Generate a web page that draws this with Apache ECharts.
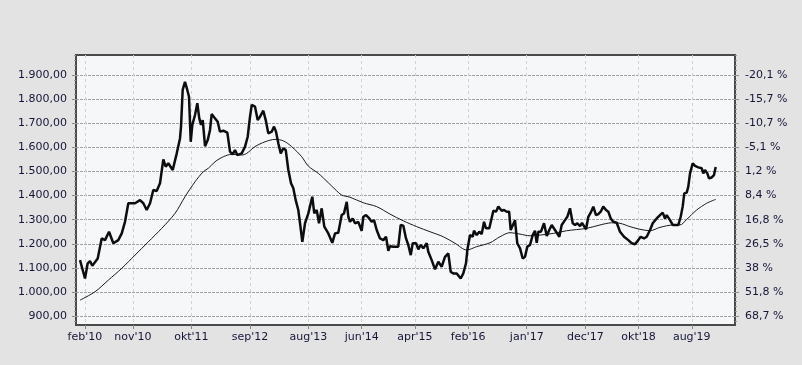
<!DOCTYPE html>
<html><head><meta charset="utf-8">
<script src="https://cdn.jsdelivr.net/npm/echarts@6/dist/echarts.min.js"></script>
<style>html,body{margin:0;padding:0;background:#e3e3e3;}#c{width:802px;height:365px;}</style>
</head><body><div id="c"></div>
<script>
// x values are decimal years
const xLabelPos = [2010.083, 2010.833, 2011.75, 2012.667, 2013.583, 2014.417, 2015.25, 2016.083, 2017.0, 2017.917, 2018.75, 2019.583];
const xLabels = ["feb'10","nov'10","okt'11","sep'12","aug'13","jun'14","apr'15","feb'16","jan'17","dec'17","okt'18","aug'19"];
const yTickVals = [900,1000,1100,1200,1300,1400,1500,1600,1700,1800,1900];
const yLabels = ["900,00","1.000,00","1.100,00","1.200,00","1.300,00","1.400,00","1.500,00","1.600,00","1.700,00","1.800,00","1.900,00"];
const rightLabels = ["68,7 %","51,8 %","38 %","26,5 %","16,8 %","8,4 %","1,2 %","-5,1 %","-10,7 %","-15,7 %","-20,1 %"];

const priceT = [2010.007,2010.085,2010.127,2010.163,2010.199,2010.284,2010.346,2010.398,2010.461,2010.528,2010.555,2010.606,2010.660,2010.711,2010.763,2010.789,2010.868,2010.946,2010.998,2011.051,2011.103,2011.154,2011.207,2011.259,2011.311,2011.348,2011.389,2011.458,2011.521,2011.572,2011.588,2011.614,2011.650,2011.686,2011.713,2011.740,2011.765,2011.807,2011.843,2011.874,2011.901,2011.928,2011.964,2012.006,2012.042,2012.068,2012.109,2012.162,2012.198,2012.250,2012.313,2012.355,2012.397,2012.433,2012.469,2012.538,2012.590,2012.632,2012.668,2012.695,2012.746,2012.788,2012.825,2012.876,2012.914,2012.954,2013.008,2013.044,2013.075,2013.111,2013.149,2013.189,2013.227,2013.268,2013.310,2013.346,2013.383,2013.424,2013.451,2013.487,2013.529,2013.581,2013.643,2013.674,2013.712,2013.748,2013.790,2013.831,2013.894,2013.956,2013.999,2014.050,2014.103,2014.139,2014.182,2014.207,2014.233,2014.276,2014.312,2014.363,2014.416,2014.442,2014.484,2014.535,2014.573,2014.609,2014.651,2014.703,2014.755,2014.797,2014.833,2014.860,2014.911,2014.989,2015.027,2015.068,2015.110,2015.146,2015.184,2015.215,2015.267,2015.303,2015.340,2015.381,2015.434,2015.459,2015.512,2015.564,2015.616,2015.669,2015.720,2015.772,2015.810,2015.850,2015.904,2015.966,2016.007,2016.049,2016.070,2016.112,2016.154,2016.174,2016.217,2016.257,2016.295,2016.331,2016.362,2016.414,2016.477,2016.519,2016.555,2016.608,2016.644,2016.686,2016.724,2016.749,2016.780,2016.816,2016.852,2016.895,2016.937,2016.973,2017.009,2017.051,2017.093,2017.129,2017.156,2017.181,2017.223,2017.270,2017.313,2017.353,2017.391,2017.442,2017.510,2017.547,2017.599,2017.635,2017.677,2017.720,2017.756,2017.792,2017.834,2017.865,2017.901,2017.928,2017.964,2018.001,2018.042,2018.084,2018.120,2018.158,2018.198,2018.241,2018.277,2018.314,2018.355,2018.408,2018.460,2018.523,2018.590,2018.643,2018.695,2018.746,2018.784,2018.836,2018.878,2018.930,2018.972,2019.034,2019.086,2019.128,2019.164,2019.191,2019.243,2019.285,2019.321,2019.373,2019.410,2019.441,2019.466,2019.504,2019.529,2019.556,2019.598,2019.634,2019.686,2019.739,2019.764,2019.790,2019.827,2019.853,2019.895,2019.931,2019.958];
const priceV = [1132,1056,1119,1128,1109,1139,1222,1215,1250,1202,1195,1215,1243,1291,1368,1360,1368,1381,1368,1340,1368,1423,1419,1451,1550,1520,1534,1506,1575,1637,1686,1838,1872,1838,1810,1623,1693,1734,1783,1720,1693,1713,1605,1630,1672,1738,1724,1706,1665,1669,1661,1582,1571,1589,1568,1575,1603,1644,1727,1776,1769,1713,1727,1752,1713,1658,1665,1686,1665,1617,1575,1596,1589,1506,1451,1430,1381,1340,1285,1208,1285,1326,1395,1326,1340,1285,1347,1271,1243,1204,1243,1246,1319,1326,1374,1312,1291,1305,1285,1291,1254,1312,1319,1305,1291,1298,1257,1222,1215,1229,1171,1190,1188,1188,1278,1275,1222,1195,1153,1202,1202,1177,1195,1181,1202,1167,1132,1094,1125,1105,1146,1160,1084,1077,1077,1056,1077,1119,1174,1236,1229,1254,1236,1250,1240,1291,1264,1264,1337,1333,1354,1337,1340,1333,1333,1257,1257,1298,1202,1181,1139,1146,1188,1195,1236,1254,1204,1250,1250,1285,1232,1257,1278,1257,1229,1278,1298,1312,1347,1285,1278,1285,1273,1287,1271,1260,1312,1329,1354,1319,1323,1333,1354,1340,1333,1305,1291,1287,1250,1229,1215,1202,1198,1215,1229,1222,1229,1257,1285,1305,1319,1329,1305,1319,1298,1278,1278,1278,1312,1354,1409,1412,1437,1492,1534,1523,1517,1513,1492,1506,1492,1471,1475,1485,1518];

const maT = [2010.007,2010.242,2010.450,2010.660,2010.868,2011.076,2011.286,2011.494,2011.650,2011.807,2011.937,2012.015,2012.120,2012.250,2012.381,2012.538,2012.616,2012.746,2012.903,2013.059,2013.189,2013.320,2013.477,2013.581,2013.737,2013.894,2013.999,2014.103,2014.233,2014.442,2014.651,2014.860,2015.068,2015.277,2015.485,2015.694,2015.877,2016.060,2016.217,2016.425,2016.581,2016.738,2016.895,2017.051,2017.207,2017.415,2017.624,2017.938,2018.147,2018.330,2018.460,2018.617,2018.773,2018.930,2019.086,2019.294,2019.399,2019.504,2019.660,2019.817,2019.958];
const maV = [966,1001,1049,1098,1153,1208,1264,1326,1395,1457,1499,1513,1540,1561,1571,1568,1575,1603,1623,1633,1627,1603,1561,1522,1492,1453,1426,1402,1393,1370,1354,1323,1295,1271,1250,1229,1202,1174,1188,1204,1229,1246,1240,1233,1236,1243,1254,1264,1278,1287,1285,1271,1260,1254,1268,1278,1278,1301,1340,1368,1384];

const yMinor = [];
for (let v = 880; v <= 1980; v += 20) yMinor.push(v);

const X_MIN = 2009.944, X_MAX = 2020.26, Y_MIN = 863, Y_MAX = 1983;
const FONT = {fontFamily: 'DejaVu Sans', fontSize: 11, color: '#15153a'};

const chart = echarts.init(document.getElementById('c'));
const yBase = {
  type: 'value', min: Y_MIN, max: Y_MAX,
  axisLine: {show: false},
  splitLine: {show: false}
};
chart.setOption({
  animation: false,
  backgroundColor: '#e3e3e3',
  grid: {left: 76, right: 67, top: 55, bottom: 40, show: true, backgroundColor: '#f6f7f9', borderColor: '#4a4a4a', borderWidth: 2},
  xAxis: [{
    type: 'value', min: X_MIN, max: X_MAX,
    axisLine: {show: false},
    axisTick: {show: true, length: 4, inside: false, customValues: xLabelPos, lineStyle: {color: '#888'}},
    axisLabel: {customValues: xLabelPos, margin: 7, ...FONT,
      formatter: v => { const i = xLabelPos.findIndex(p => Math.abs(p - v) < 1e-6); return i >= 0 ? xLabels[i] : ''; }},
    splitLine: {show: true, lineStyle: {color: '#d2d2d2', type: [3, 3], width: 1}}
  }],
  yAxis: [
    Object.assign({}, yBase, {
      position: 'left',
      axisTick: {show: true, length: 4, customValues: yTickVals, lineStyle: {color: '#888'}},
      axisLabel: {customValues: yTickVals, margin: 9, ...FONT,
        formatter: v => { const i = yTickVals.indexOf(Math.round(v)); return i >= 0 ? yLabels[i] : ''; }},
      splitLine: {show: true, lineStyle: {color: '#a3a3a3', type: [3, 1], width: 1}}
    }),
    Object.assign({}, yBase, {
      position: 'right',
      axisTick: {show: true, length: 4, customValues: yTickVals, lineStyle: {color: '#888'}},
      axisLabel: {customValues: yTickVals, margin: 10, ...FONT,
        formatter: v => { const i = yTickVals.indexOf(Math.round(v)); return i >= 0 ? rightLabels[i] : ''; }}
    }),
    Object.assign({}, yBase, {
      position: 'left',
      axisTick: {show: true, length: 2, customValues: yMinor, lineStyle: {color: '#999'}},
      axisLabel: {show: false}
    }),
    Object.assign({}, yBase, {
      position: 'right',
      axisTick: {show: true, length: 2, customValues: yMinor, lineStyle: {color: '#999'}},
      axisLabel: {show: false}
    })
  ],
  series: [
    {type: 'line', data: maT.map((t, i) => [t, maV[i]]), showSymbol: false, smooth: 0.3,
     lineStyle: {color: '#1a1a1a', width: 1}},
    {type: 'line', data: priceT.map((t, i) => [t, priceV[i]]), showSymbol: false,
     lineStyle: {color: '#0d0d0d', width: 2.5}}
  ]
});
</script></body></html>
